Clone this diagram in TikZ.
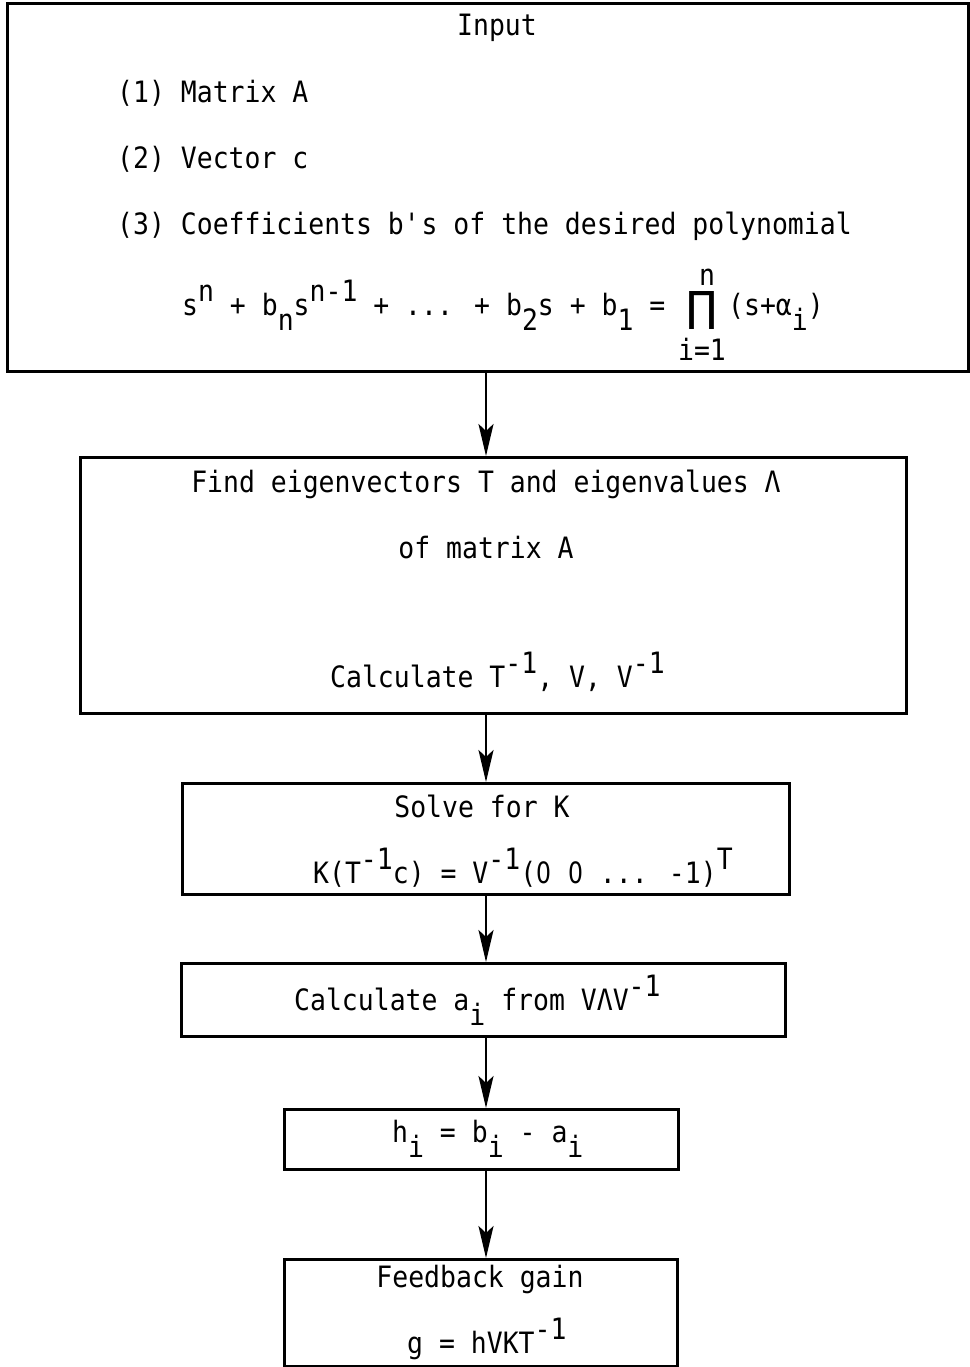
\documentclass[tikz,border=0pt]{standalone}
\usepackage{fontspec}
\usepackage{graphicx}
\usetikzlibrary{arrows.meta}
\setmainfont{DejaVu Sans Mono}[FakeStretch=0.9]
\newfontfamily\prodfont{DejaVu Sans}
\newfontfamily\zerofont{DejaVu Sans}[FakeStretch=0.8]
\newcommand\myup[1]{\raisebox{14pt}{#1}}
\newcommand\mydn[1]{\raisebox{-15pt}{#1}}
\newcommand\myzero{\makebox[0.5418em]{\zerofont 0}}
\begin{document}
\begin{tikzpicture}[x=1pt,y=-1pt,
  box/.style={draw, line width=2.6pt, inner sep=0pt, anchor=north west},
  txt/.style={inner sep=0pt, font=\fontsize{29.4}{32}\selectfont},
  arr/.style={line width=2.6pt, -{Stealth[length=32pt,width=15pt,inset=7pt]}}]
\useasboundingbox (0,0) rectangle (969,1367);
% boxes
\node[box, minimum width=961pt, minimum height=368pt] (b1) at (6,2) {};
\node[box, minimum width=826pt, minimum height=256pt] (b2) at (79,456) {};
\node[box, minimum width=607pt, minimum height=111pt] (b3) at (181,782) {};
\node[box, minimum width=604pt, minimum height=73pt] (b4) at (180,962) {};
\node[box, minimum width=394pt, minimum height=60pt] (b5) at (283,1108) {};
\node[box, minimum width=393pt, minimum height=107pt] (b6) at (283,1258) {};
% connectors
\coordinate (ax) at (486,0);
\draw[arr] (b1.south -| ax) -- (b2.north -| ax);
\draw[arr] (b2.south -| ax) -- (b3.north -| ax);
\draw[arr] (b3.south -| ax) -- (b4.north -| ax);
\draw[arr] (b4.south -| ax) -- (b5.north -| ax);
\draw[arr] (b5.south -| ax) -- (b6.north -| ax);
% box 1 texts
\node[txt, anchor=base] (t1a) at (497,36) {Input};
\node[txt, anchor=base west] (t1b) at (117,103) {(1) Matrix A};
\node[txt, anchor=base west] (t1c) at (117,169) {(2) Vector c};
\node[txt, anchor=base west] (t1d) at (117,234) {(3) Coefficients b\textquotesingle s of the desired polynomial};
\node[txt, anchor=base west] (t1e) at (182,315) {s\myup{n} + b\mydn{n}s\myup{n-1} + ... + b\mydn{2}s + b\mydn{1} =};
\node[inner sep=0pt] (prod) at (702,310) {\resizebox*{31pt}{38pt}{\prodfont ∏}};
\node[txt, anchor=base] (pn) at (707,285) {n};
\node[txt, anchor=base] (pi) at (702,360) {i=1};
\node[txt, anchor=base west] (t1f) at (728,315) {(s+α\mydn{i})};
% box 2 texts
\node[txt, anchor=base] (t2a) at (486,492) {Find eigenvectors T and eigenvalues Λ};
\node[txt, anchor=base] (t2b) at (486,558) {of matrix A};
\node[txt, anchor=base west] (t2c) at (330,687) {Calculate T\myup{-1}, V, V\myup{-1}};
% box 3 texts
\node[txt, anchor=base] (t3a) at (482,817) {Solve for K};
\node[txt, anchor=base west] (t3b) at (313,883) {K(T\myup{-1}c) = V\myup{-1}(\myzero{} \myzero{} ... -1)\myup{T}};
% box 4
\node[txt, anchor=base west] (t4) at (294,1010) {Calculate a\mydn{i} from VΛV\myup{-1}};
% box 5
\node[txt, anchor=base west] (t5) at (392,1142) {h\mydn{i} = b\mydn{i} - a\mydn{i}};
% box 6
\node[txt, anchor=base] (t6a) at (480,1287) {Feedback gain};
\node[txt, anchor=base west] (t6b) at (407,1353) {g = hVKT\myup{-1}};
\end{tikzpicture}
\end{document}
